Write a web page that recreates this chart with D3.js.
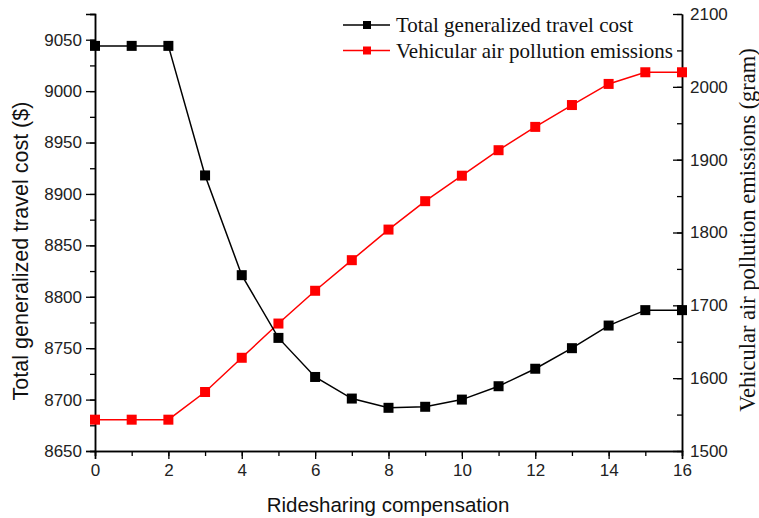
<!DOCTYPE html>
<html>
<head>
<meta charset="utf-8">
<script src="https://cdn.jsdelivr.net/npm/d3@7"></script>
<style>
  body { margin: 0; background: #fff; }
  .tick text { font-family: "Liberation Sans", Arial, sans-serif; font-size: 17px; fill: #222; }
</style>
</head>
<body>
<div id="chart"></div>
<script>
// Data
var compensation = [0, 1, 2, 3, 4, 5, 6, 7, 8, 9, 10, 11, 12, 13, 14, 15, 16];
var travelCost = [9044, 9044, 9044, 8918, 8821, 8760, 8722, 8701, 8692, 8693, 8700, 8713, 8730, 8750, 8772, 8787, 8787];
var emissions = [1543, 1543, 1543, 1581, 1628, 1675, 1720, 1762, 1804, 1843, 1878, 1913, 1945, 1975, 2004, 2020, 2020];
var leftTicks = [8650, 8700, 8750, 8800, 8850, 8900, 8950, 9000, 9050];
var rightTicks = [1500, 1600, 1700, 1800, 1900, 2000, 2100];
var xTicks = [0, 2, 4, 6, 8, 10, 12, 14, 16];
var seriesNames = ["Total generalized travel cost", "Vehicular air pollution emissions"];
var seriesColors = ["#000000", "#ff0000"];

var W = 759, H = 518;
var margin = { left: 95, top: 14, right: 77, bottom: 67 };
var width = W - margin.left - margin.right,
    height = H - margin.top - margin.bottom;

var svg = d3.select("#chart").append("svg")
    .attr("width", W).attr("height", H)
    .append("g")
    .attr("transform", "translate(" + margin.left + "," + margin.top + ")");

// Scales
var x = d3.scaleLinear().domain([0, 16]).range([0, width]);
var yL = d3.scaleLinear().domain([8650, 9075]).range([height, 0]);
var yR = d3.scaleLinear().domain([1500, 2100]).range([height, 0]);

// Axes: minor ticks first, then major
svg.append("g").attr("transform", "translate(0," + height + ")")
    .call(d3.axisBottom(x).tickValues(d3.range(0, 17, 1)).tickSize(5).tickFormat(""));
svg.append("g").attr("transform", "translate(0," + height + ")")
    .call(d3.axisBottom(x).tickValues(xTicks).tickSize(8).tickPadding(5));

svg.append("g")
    .call(d3.axisLeft(yL).tickValues(d3.range(8650, 9076, 25)).tickSize(5).tickFormat(""));
svg.append("g")
    .call(d3.axisLeft(yL).tickValues(leftTicks).tickSize(9).tickPadding(4).tickFormat(d3.format("d")));

svg.append("g").attr("class", "rminor").attr("transform", "translate(" + width + ",0)")
    .call(d3.axisRight(yR).tickValues(d3.range(1500, 2101, 50)).tickSizeInner(-5).tickSizeOuter(0).tickFormat(""));
svg.append("g").attr("class", "rmajor").attr("transform", "translate(" + width + ",0)")
    .call(d3.axisRight(yR).tickValues(rightTicks).tickSizeInner(-9).tickSizeOuter(0).tickFormat(d3.format("d")));
svg.selectAll(".rmajor .tick text").attr("x", 8);

svg.selectAll(".domain").attr("stroke", "#000").attr("stroke-width", 1.5);
svg.selectAll(".tick line").attr("stroke", "#000").attr("stroke-width", 1.3);

// Lines + markers
function drawSeries(vals, yScale, color) {
    var line = d3.line()
        .x(function (d, i) { return x(compensation[i]); })
        .y(function (d) { return yScale(d); });
    svg.append("path")
        .datum(vals)
        .attr("d", line)
        .attr("fill", "none")
        .attr("stroke", color)
        .attr("stroke-width", 1.5);
    var s = 10;
    svg.selectAll(null)
        .data(vals)
        .enter().append("rect")
        .attr("x", function (d, i) { return x(compensation[i]) - s / 2; })
        .attr("y", function (d) { return yScale(d) - s / 2; })
        .attr("width", s).attr("height", s)
        .attr("fill", color);
}
drawSeries(emissions, yR, seriesColors[1]);
drawSeries(travelCost, yL, seriesColors[0]);

// Legend
var legend = svg.append("g").attr("transform", "translate(" + (343 - margin.left) + "," + (25 - margin.top) + ")");
seriesNames.forEach(function (name, i) {
    var g = legend.append("g").attr("transform", "translate(0," + (i * 25.5) + ")");
    g.append("line").attr("x1", 0).attr("x2", 47).attr("y1", 0).attr("y2", 0)
        .attr("stroke", seriesColors[i]).attr("stroke-width", 1.5);
    g.append("rect").attr("x", 20).attr("y", -4).attr("width", 8).attr("height", 8)
        .attr("fill", seriesColors[i]);
    g.append("text").attr("x", 53).attr("y", 7)
        .style("font-family", "'Liberation Serif', 'Times New Roman', serif")
        .style("font-size", "21px").style("fill", "#111")
        .text(name);
});

// Axis titles
svg.append("text")
    .attr("x", 388 - margin.left).attr("y", 512 - margin.top)
    .attr("text-anchor", "middle")
    .style("font-family", "'Liberation Sans', Arial, sans-serif")
    .style("font-size", "20.5px").style("fill", "#111")
    .text("Ridesharing compensation");

svg.append("text")
    .attr("transform", "translate(" + (28 - margin.left) + "," + (251 - margin.top) + ") rotate(-90)")
    .attr("text-anchor", "middle")
    .style("font-family", "'Liberation Sans', Arial, sans-serif")
    .style("font-size", "21.5px").style("fill", "#111")
    .text("Total generalized travel cost ($)");

svg.append("text")
    .attr("transform", "translate(" + (755 - margin.left) + "," + (230 - margin.top) + ") rotate(-90)")
    .attr("text-anchor", "middle")
    .style("font-family", "'Liberation Serif', 'Times New Roman', serif")
    .style("font-size", "22.5px").style("fill", "#111")
    .text("Vehicular air pollution emissions (gram)");
</script>
</body>
</html>
